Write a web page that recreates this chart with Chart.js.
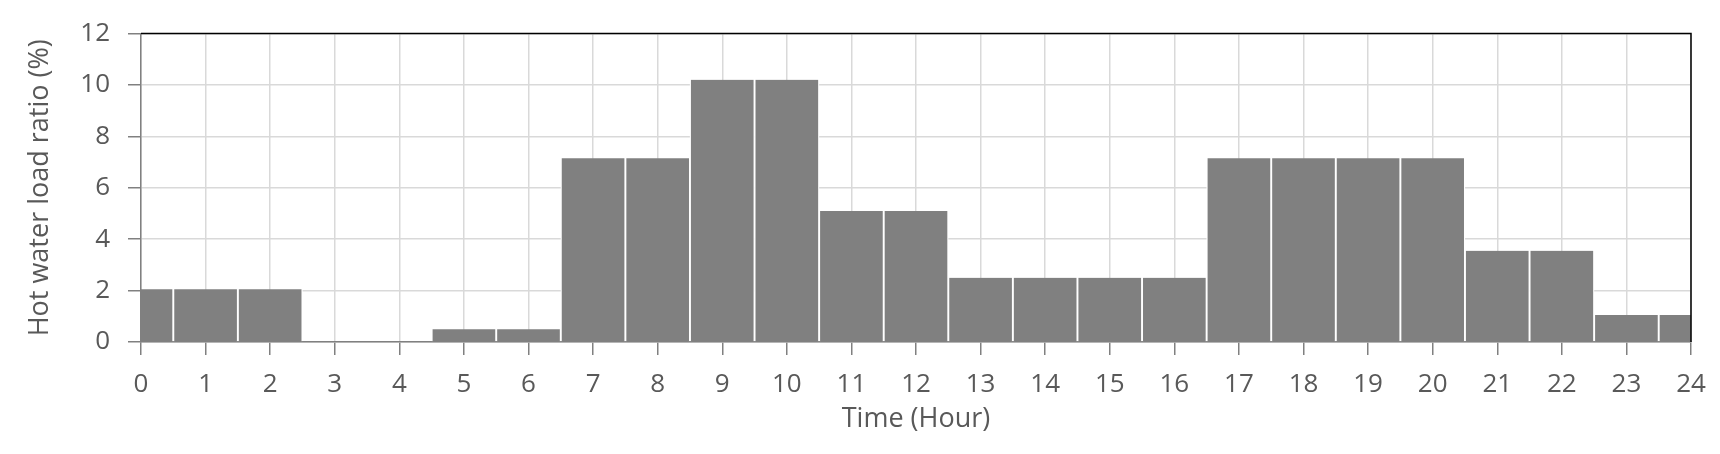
<!DOCTYPE html>
<html>
<head>
<meta charset="utf-8">
<script src="https://cdn.jsdelivr.net/npm/chart.js@4.4.1/dist/chart.umd.min.js"></script>
<style>
  html, body { margin: 0; padding: 0; background: #fff; }
  #wrap { width: 1720px; height: 454px; position: relative; }
</style>
</head>
<body>
<div id="wrap"><canvas id="loadChart"></canvas></div>
<script>
// hourly hot water load profile
const hours = [0, 1, 2, 3, 4, 5, 6, 7, 8, 9, 10, 11, 12, 13, 14, 15, 16, 17, 18, 19, 20, 21, 22, 23, 24];
const loadRatio = [2.05, 2.05, 2.05, 0, 0, 0.5, 0.5, 7.15, 7.15, 10.2, 10.2, 5.1, 5.1,
  2.5, 2.5, 2.5, 2.5, 7.15, 7.15, 7.15, 7.15, 3.55, 3.55, 1.05, 1.05];
const xTickValues = hours;
const yTickValues = [0, 2, 4, 6, 8, 10, 12];

const FONT = '"Open Sans", "Noto Sans", sans-serif';
const TEXT = '#595959';

// black top and right edge of the plot box
const frameLines = {
  id: 'frameLines',
  afterDatasetsDraw(chart) {
    const { ctx, chartArea: a } = chart;
    ctx.save();
    ctx.strokeStyle = '#000';
    ctx.lineWidth = 1.5;
    ctx.beginPath();
    ctx.moveTo(a.left, a.top);
    ctx.lineTo(a.right, a.top);
    ctx.lineTo(a.right, a.bottom);
    ctx.stroke();
    ctx.restore();
  }
};

const ctx = document.getElementById('loadChart').getContext('2d');
new Chart(ctx, {
  type: 'bar',
  data: {
    datasets: [{
      label: 'Hot water load ratio',
      data: hours.map((h, i) => ({ x: h, y: loadRatio[i] })),
      backgroundColor: '#808080',
      borderColor: '#ffffff',
      borderWidth: { left: 1.3, right: 1.3, top: 0, bottom: 0 },
      borderSkipped: false,
      barPercentage: 1,
      categoryPercentage: 1,
      clip: 0
    }]
  },
  options: {
    responsive: true,
    maintainAspectRatio: false,
    animation: false,
    layout: { padding: { left: 0, top: 18, right: 29, bottom: 0 } },
    plugins: {
      legend: { display: false },
      tooltip: { enabled: false }
    },
    scales: {
      x: {
        type: 'linear',
        min: 0,
        max: 24,
        offset: false,
        afterBuildTicks: s => { s.ticks = xTickValues.map(v => ({ value: v })); },
        afterFit: s => { s.height = 112; },
        grid: { color: '#d9d9d9', lineWidth: 1.5, tickColor: '#808080', tickLength: 13, offset: false },
        border: { color: '#808080', width: 1.5 },
        ticks: { color: TEXT, font: { family: FONT, size: 26 }, padding: 14, maxRotation: 0, autoSkip: false },
        title: { display: true, text: 'Time (Hour)', color: TEXT, font: { family: FONT, size: 27 }, padding: { top: 0, bottom: 18 } }
      },
      y: {
        min: 0,
        max: 12,
        afterBuildTicks: s => { s.ticks = yTickValues.map(v => ({ value: v })); },
        afterFit: s => { s.width = 141; },
        grid: { color: '#d9d9d9', lineWidth: 1.5, tickColor: '#808080', tickLength: 13 },
        border: { color: '#808080', width: 1.5 },
        ticks: { color: TEXT, font: { family: FONT, size: 26 }, padding: 18 },
        title: { display: true, text: 'Hot water load ratio (%)', color: TEXT, font: { family: FONT, size: 27 }, padding: { top: 24, bottom: 0 } }
      }
    }
  },
  plugins: [frameLines]
});
</script>
</body>
</html>
